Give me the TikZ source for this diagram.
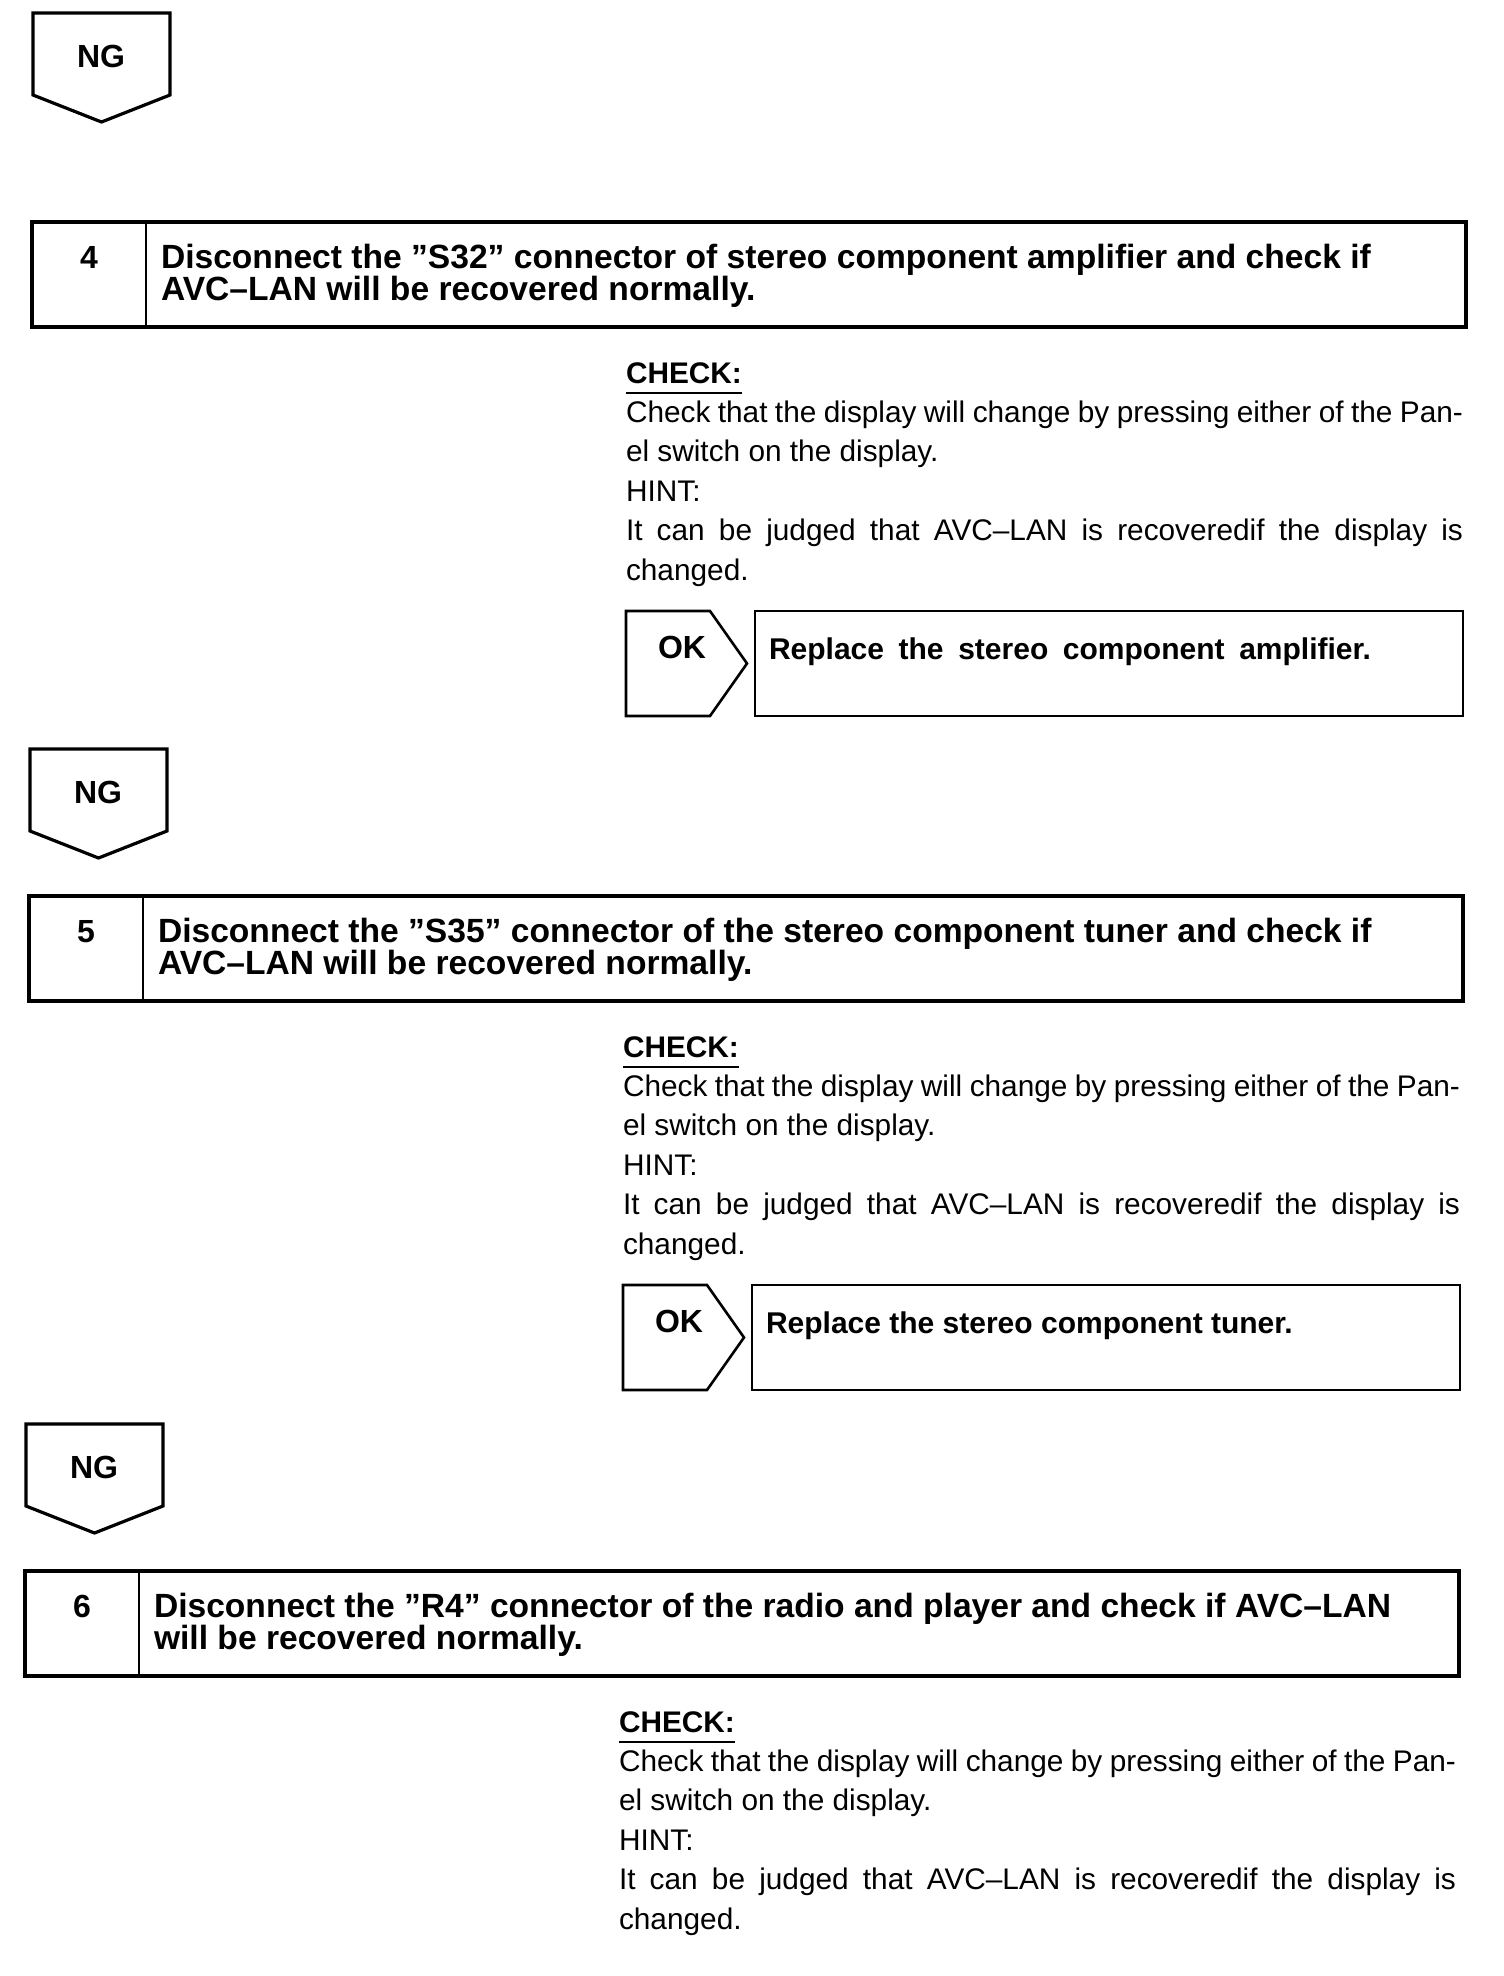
\documentclass[tikz,border=0pt]{standalone}
\usepackage{fontspec}
\setmainfont{Liberation Sans}
\usetikzlibrary{calc}
\tikzset{
  framebox/.style={draw, line width=1.6pt, line join=miter, inner sep=0pt, outer sep=0pt},
  okframe/.style={draw, line width=1.3pt, line join=miter, inner sep=0pt, outer sep=0pt},
  divline/.style={line width=1.2pt},
  txt/.style={inner sep=0pt, outer sep=0pt},
  headtxt/.style={txt, anchor=base west, font=\fontsize{16.8pt}{16pt}\selectfont\bfseries},
  numtxt/.style={txt, anchor=base, font=\fontsize{16pt}{16pt}\selectfont\bfseries},
  bodytxt/.style={txt, anchor=base west, font=\fontsize{14.9pt}{19pt}\selectfont},
  chktxt/.style={txt, anchor=base west, font=\fontsize{14.9pt}{19pt}\selectfont\bfseries},
  reptxt/.style={txt, anchor=base west, font=\fontsize{15pt}{16pt}\selectfont\bfseries},
}
% NG pentagon: #1 name, #2 left x, #3 top y (pixels)
\newcommand\ngshape[3]{%
  \draw[framebox] (#2,#3) -- ++(137,0) -- ++(0,82) -- ++(-68.5,27) -- ++(-68.5,-27) -- cycle;
  \node[numtxt] (#1) at (#2+68,#3+54) {NG};
}
% step box: #1 id, #2 dx, #3 top y, #4 line 1, #5 line 2
\newcommand\stepblock[5]{%
  \begin{scope}[shift={(#2,#3)}]
    \node[framebox, minimum width=717pt, minimum height=52.5pt, anchor=north west] (box#1) at (32,0) {};
    \draw[divline] ($(box#1.north west)+(114,0)$) -- ($(box#1.south west)+(114,0)$);
    \node[numtxt] (num#1) at (89,46) {#1};
    \node[headtxt] (hda#1) at (161,46) {#4};
    \node[headtxt] (hdb#1) at (161,78) {#5};
    \node[chktxt] (chk#1) at (626,161) {CHECK:};
    \draw[line width=1pt] ($(chk#1.base west)+(0,10)$) -- ($(chk#1.base east)+(0,10)$);
    \node[bodytxt] (bla#1) at (626,200) {\makebox[418.5pt][s]{Check that the display will change by pressing either of the Pan-}};
    \node[bodytxt] (blb#1) at (626,239.5) {el switch on the display.};
    \node[bodytxt] (blc#1) at (626,279) {HINT:};
    \node[bodytxt] (bld#1) at (626,318.5) {\makebox[418.5pt][s]{It can be judged that AVC–LAN is recoveredif the display is}};
    \node[bodytxt] (ble#1) at (626,358) {changed.};
  \end{scope}}
% OK row: #1 id, #2 dx, #3 top y of step box, #4 text
\newcommand\okrow[4]{%
  \begin{scope}[shift={(#2,#3)}]
    \draw[okframe] (626,389) -- (710,389) -- (747,441.5) -- (710,494) -- (626,494) -- cycle;
    \node[numtxt] (ok#1) at (682,436) {OK};
    \node[okframe, minimum width=354pt, minimum height=52.5pt, anchor=north west] (rep#1) at (755,389) {};
    \node[reptxt] (rept#1) at (769,437) {#4};
  \end{scope}}

\begin{document}
\begin{tikzpicture}[x=0.5pt,y=-0.5pt]
\useasboundingbox (0,0) rectangle (1504,1976);

\ngshape{ngA}{33}{13}
\stepblock{4}{0}{222}{Disconnect the ”S32” connector of stereo component amplifier and check if}{AVC–LAN will be recovered normally.}
\okrow{4}{0}{222}{\makebox[301pt][s]{Replace the stereo component amplifier.}}

\ngshape{ngB}{30}{749}
\stepblock{5}{-3}{896}{Disconnect the ”S35” connector of the stereo component tuner and check if}{AVC–LAN will be recovered normally.}
\okrow{5}{-3}{896}{Replace the stereo component tuner.}

\ngshape{ngC}{26}{1424}
\stepblock{6}{-7}{1571}{Disconnect the ”R4” connector of the radio and player and check if AVC–LAN}{will be recovered normally.}

\end{tikzpicture}
\end{document}
